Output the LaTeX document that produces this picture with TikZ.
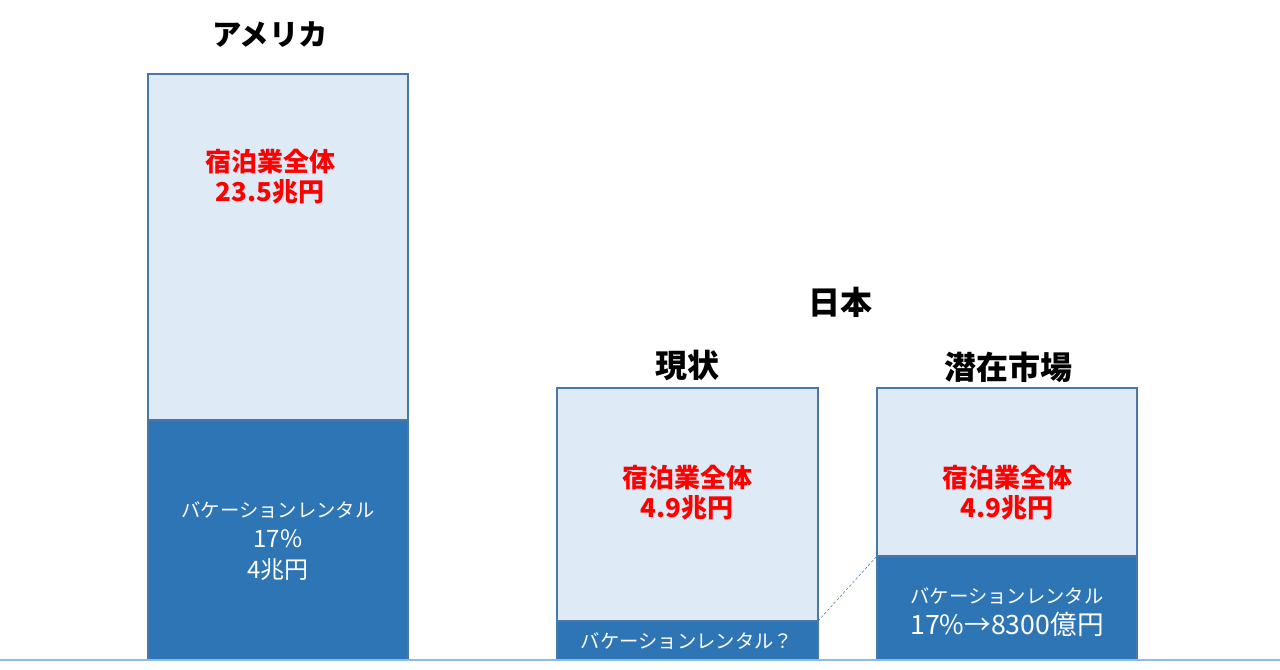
\documentclass[tikz,border=0pt]{standalone}
\usepackage{fontspec}
\setmainfont{Noto Sans CJK JP}
\definecolor{barlight}{HTML}{DEEBF7}
\definecolor{bardark}{HTML}{2E75B6}
\definecolor{barline}{HTML}{4A76A8}
\definecolor{baseblue}{HTML}{8FBCE6}
\newcommand{\bignum}{\fontsize{18}{23}\selectfont}
\begin{document}
\begin{tikzpicture}[x=0.75pt,y=0.75pt,yscale=-1,xscale=1,
	lightseg/.style={draw=barline,fill=barlight,line width=0.9},
	darkseg/.style={draw=barline,fill=bardark,line width=0.9},
	head/.style={font=\bfseries\fontsize{24}{28}\selectfont,inner sep=0.75pt},
	total/.style={text=red,font=\bfseries\fontsize{19.5}{22.5}\selectfont,align=center,inner sep=0.75pt},
	share/.style={text=white,font=\fontsize{14.5}{23}\selectfont,align=center,inner sep=0.75pt}]
	\useasboundingbox (0,0) rectangle (1280,669);
	
	%Shape: Rectangle [America]
	\draw [lightseg] (148,74) rectangle (408,420) ;
	\draw [darkseg] (148,420) rectangle (408,660) ;
	%Shape: Rectangle [Japan now]
	\draw [lightseg] (557,388) rectangle (818,621) ;
	\draw [darkseg] (557,621) rectangle (818,660) ;
	%Shape: Rectangle [Japan potential]
	\draw [lightseg] (877,388) rectangle (1137,556) ;
	\draw [darkseg] (877,556) rectangle (1137,660) ;
	%Straight Lines [base]
	\draw [baseblue, line width=1.5] (0,660) -- (1280,660) ;
	%Straight Lines [dashed link]
	\coordinate (nowTop) at (818,621) ;
	\coordinate (potTop) at (877,556) ;
	\draw [barline, dash pattern=on 2pt off 1.5pt] (nowTop) -- (potTop) ;
	
	% Text Node
	\node [head, font=\bfseries\fontsize{22}{26}\selectfont] (usHead) at (270,35) {アメリカ};
	% Text Node
	\node [head] (jpHead) at (840,302) {日本};
	% Text Node
	\node [head] (nowHead) at (687,365) {現状};
	% Text Node
	\node [head] (potHead) at (1008,367) {潜在市場};
	% Text Node
	\node [total] (usTotal) at (270,177) {宿泊業全体\\23.5兆円};
	% Text Node
	\node [total] (nowTotal) at (687,493) {宿泊業全体\\4.9兆円};
	% Text Node
	\node [total] (potTotal) at (1007,493) {宿泊業全体\\4.9兆円};
	% Text Node
	\node [share] (usShare) at (278,541) {バケーションレンタル\\{\bignum 17\%}\\{\bignum 4兆円}};
	% Text Node
	\node [share] (nowShare) at (687,641) {バケーションレンタル？};
	% Text Node
	\node [share] (potShare) at (1007,612) {バケーションレンタル\\{\fontsize{20}{23}\selectfont 17\%→8300億円}};
\end{tikzpicture}
\end{document}
